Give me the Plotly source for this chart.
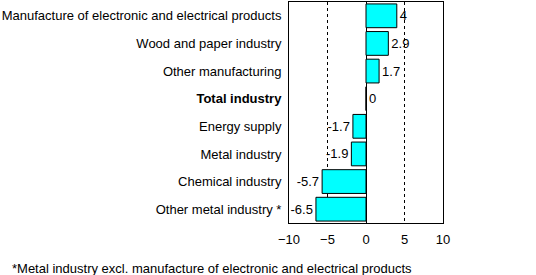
import plotly.graph_objects as go

categories = ["Manufacture of electronic and electrical products", "Wood and paper industry",
              "Other manufacturing", "Total industry", "Energy supply", "Metal industry",
              "Chemical industry", "Other metal industry *"]
values = [4, 2.9, 1.7, 0, -1.7, -1.9, -5.7, -6.5]
labels = ["4", "2.9", "1.7", "0", "-1.7", "-1.9", "-5.7", "-6.5"]
tick_vals = [-10, -5, 0, 5, 10]
footnote = "*Metal industry excl. manufacture of electronic and electrical products"

ticktext = ["<b>" + c + "</b>" if c == "Total industry" else c for c in categories]

fig = go.Figure(go.Bar(
    x=values, y=categories, orientation="h",
    marker=dict(color="#00FFFF", line=dict(color="black", width=1)),
    text=labels, textposition="outside", cliponaxis=False,
    textfont=dict(family="Arial", size=13, color="black"),
    width=0.86,
))

fig.update_layout(
    width=536, height=275,
    margin=dict(l=289, r=93, t=2, b=52),
    paper_bgcolor="white", plot_bgcolor="white",
    font=dict(family="Arial", size=13, color="black"),
    showlegend=False,
    bargap=0.14,
)
fig.update_xaxes(
    range=[-10, 10], tickvals=tick_vals, ticks="",
    showgrid=True, gridcolor="black", griddash="3px,3px", gridwidth=1,
    zeroline=True, zerolinecolor="black", zerolinewidth=1,
    showline=True, linecolor="black", mirror=True,
    tickfont=dict(size=13), ticklabelstandoff=4,
)
fig.update_yaxes(
    categoryorder="array", categoryarray=categories[::-1],
    tickvals=categories, ticktext=ticktext,
    showline=True, linecolor="black", mirror=True, showgrid=False,
    ticks="", ticklabelstandoff=4,
    tickfont=dict(size=13),
)
fig.add_annotation(text=footnote, xref="paper", yref="paper", x=-279/154, y=-0.205,
                   xanchor="left", yanchor="middle", showarrow=False,
                   font=dict(size=13, color="black"))

fig.write_html("out.html")
